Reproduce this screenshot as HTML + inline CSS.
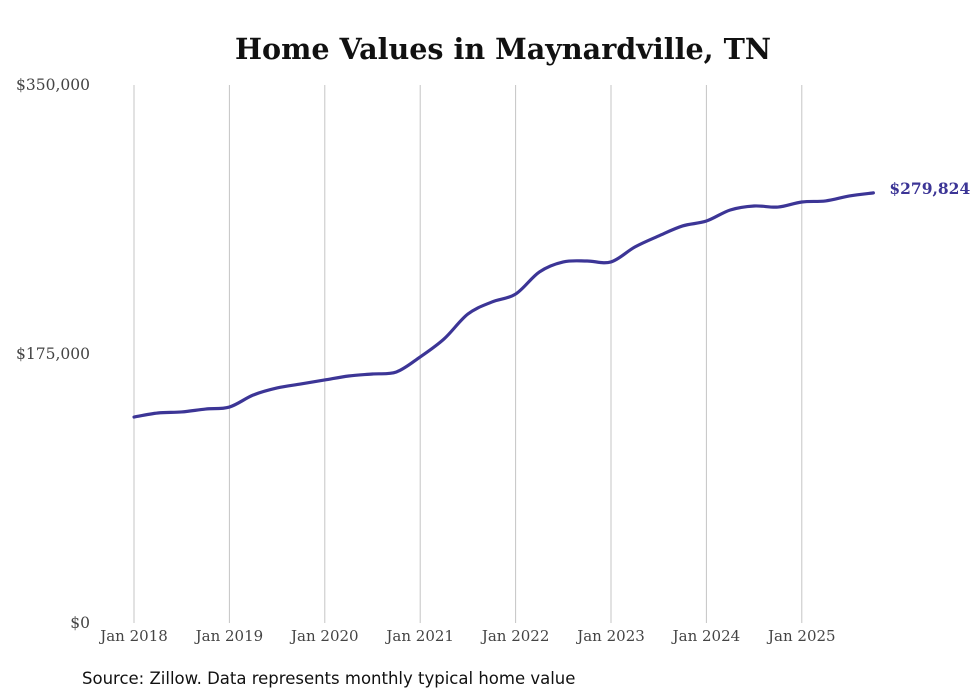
<!DOCTYPE html>
<html><head><meta charset="utf-8"><style>
body{margin:0;background:#fff;}
svg{display:block;}
</style></head><body>
<svg id="chart" width="980" height="699" viewBox="0 0 980 699">
<rect width="980" height="699" fill="#fff"/>
<text x="503" y="59" text-anchor="middle" font-family="'DejaVu Serif','Liberation Serif',serif" font-weight="bold" font-size="28.6" fill="#111">Home Values in Maynardville, TN</text>
<g id="grid"></g>
<g id="yticks"></g>
<g id="xticks"></g>
<path id="line" fill="none" stroke="#3c3596" stroke-width="3.2" stroke-linejoin="round" stroke-linecap="round"/>
<text id="endlabel" font-family="'DejaVu Serif','Liberation Serif',serif" font-weight="bold" font-size="15.5" fill="#3c3596"></text>
<text x="82" y="684" font-family="'DejaVu Sans','Liberation Sans',sans-serif" font-size="16.5" fill="#111">Source: Zillow. Data represents monthly typical home value</text>
</svg>
<script>
const months = [0,3,6,9,12,15,18,21,24,27,30,33,36,39,42,45,48,51,54,57,60,63,66,69,72,75,78,81,84,87,90,93];
const values = [134000,136600,137300,139200,140500,148300,152900,155500,158100,160700,162000,163300,173100,184800,201000,208800,214000,228400,234900,235500,234900,244600,251800,258300,261500,268700,271300,270600,273900,274600,277800,279824];
const xTickLabels = ["Jan 2018","Jan 2019","Jan 2020","Jan 2021","Jan 2022","Jan 2023","Jan 2024","Jan 2025"];
const yTickValues = [0,175000,350000];
const yTickLabels = ["$0","$175,000","$350,000"];
const lastLabel = "$279,824";

const NS="http://www.w3.org/2000/svg";
const x0=134, xStep=95.4/12, yTop=85, yBot=623, yMax=350000;
function xs(m){return x0+m*xStep;}
function ys(v){return yBot-(v/yMax)*(yBot-yTop);}
function mk(tag,attrs,parent){const e=document.createElementNS(NS,tag);for(const k in attrs)e.setAttribute(k,attrs[k]);parent.appendChild(e);return e;}

const grid=document.getElementById('grid'), xt=document.getElementById('xticks'), yt=document.getElementById('yticks');
xTickLabels.forEach((lab,i)=>{
  const x=xs(i*12);
  const l=mk('line',{x1:x,x2:x,y1:yTop,y2:yBot,stroke:'#c4c4c4','stroke-width':1},grid);
  
  
  const t=mk('text',{x:x,y:641,'text-anchor':'middle','font-family':"'DejaVu Serif','Liberation Serif',serif",'font-size':15,fill:'#444'},xt);
  t.textContent=lab;
  
  
});
yTickValues.forEach((v,i)=>{
  const t=mk('text',{x:90,y:ys(v)+5,'text-anchor':'end','font-family':"'DejaVu Serif','Liberation Serif',serif",'font-size':15.5,fill:'#444'},yt);
  t.textContent=yTickLabels[i];
  
  
});
const pts=months.map((m,i)=>[xs(m),ys(values[i])]);
let d='M'+pts[0][0]+','+pts[0][1];
for(let i=0;i<pts.length-1;i++){
  const p0=pts[Math.max(0,i-1)],p1=pts[i],p2=pts[i+1],p3=pts[Math.min(pts.length-1,i+2)];
  const c1=[p1[0]+(p2[0]-p0[0])/6,p1[1]+(p2[1]-p0[1])/6];
  const c2=[p2[0]-(p3[0]-p1[0])/6,p2[1]-(p3[1]-p1[1])/6];
  d+=' C'+c1[0]+','+c1[1]+' '+c2[0]+','+c2[1]+' '+p2[0]+','+p2[1];
}
document.getElementById('line').setAttribute('d',d);
const last=pts[pts.length-1];
const el=document.getElementById('endlabel');
el.setAttribute('x',last[0]+16);
el.setAttribute('y',last[1]+1);
el.textContent=lastLabel;
</script>
</body></html>
